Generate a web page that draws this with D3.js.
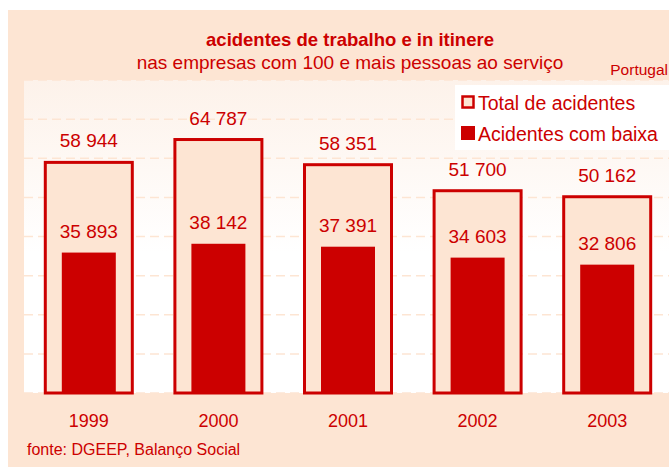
<!DOCTYPE html>
<html>
<head>
<meta charset="utf-8">
<script src="https://cdn.jsdelivr.net/npm/d3@7"></script>
<style>
  body { margin: 0; background: #fff; }
  text { font-family: "Liberation Sans", Arial, sans-serif; fill: #cc0000; }
</style>
</head>
<body>
<div id="chart"></div>
<script>
// data
var years = ["1999", "2000", "2001", "2002", "2003"];
var totalAcidentes = [58944, 64787, 58351, 51700, 50162];
var comBaixa = [35893, 38142, 37391, 34603, 32806];
var gridTicks = [0, 10000, 20000, 30000, 40000, 50000, 60000, 70000, 80000];

var width = 669, height = 467;
var red = "#cc0000", peach = "#fde5d3";

var svg = d3.select("#chart").append("svg")
  .attr("width", width)
  .attr("height", height);

var defs = svg.append("defs");
var grad = defs.append("linearGradient")
  .attr("id", "plotbg")
  .attr("x1", 0).attr("y1", 0).attr("x2", 0).attr("y2", 1);
grad.append("stop").attr("offset", "0%").attr("stop-color", "#fdf2ea");
grad.append("stop").attr("offset", "55%").attr("stop-color", "#ffffff");
grad.append("stop").attr("offset", "100%").attr("stop-color", "#ffffff");

// outer panel
svg.append("rect")
  .attr("x", 8).attr("y", 10)
  .attr("width", width - 8).attr("height", height - 10)
  .attr("fill", peach);

var plot = { left: 24, right: 672, top: 80, bottom: 393 };

var x = d3.scaleBand()
  .domain(years)
  .range([plot.left, plot.right]);

var y = d3.scaleLinear()
  .domain([0, 80000])
  .range([plot.bottom, plot.top]);

svg.append("rect")
  .attr("x", plot.left).attr("y", plot.top)
  .attr("width", plot.right - plot.left).attr("height", plot.bottom - plot.top)
  .attr("fill", "url(#plotbg)");

// dashed grid
svg.append("g")
  .selectAll("line")
  .data(gridTicks)
  .enter().append("line")
    .attr("x1", plot.left).attr("x2", plot.right)
    .attr("y1", function(d) { return y(d); })
    .attr("y2", function(d) { return y(d); })
    .attr("stroke", peach)
    .attr("stroke-width", 1.5)
    .attr("stroke-dasharray", "9,5");

var outerW = 87, innerW = 54;

// total bars (outlined)
svg.append("g")
  .selectAll("rect")
  .data(totalAcidentes)
  .enter().append("rect")
    .attr("x", function(d, i) { return x(years[i]) + x.bandwidth() / 2 - outerW / 2; })
    .attr("y", function(d) { return y(d); })
    .attr("width", outerW)
    .attr("height", function(d) { return y(0) - y(d); })
    .attr("fill", peach)
    .attr("stroke", red)
    .attr("stroke-width", 3);

// com baixa bars
svg.append("g")
  .selectAll("rect")
  .data(comBaixa)
  .enter().append("rect")
    .attr("x", function(d, i) { return x(years[i]) + x.bandwidth() / 2 - innerW / 2; })
    .attr("y", function(d) { return y(d); })
    .attr("width", innerW)
    .attr("height", function(d) { return y(0) - y(d); })
    .attr("fill", red);

var fmt = function(v) { return d3.format(",")(v).replace(/,/g, " "); };

svg.append("g")
  .selectAll("text")
  .data(totalAcidentes)
  .enter().append("text")
    .attr("x", function(d, i) { return x(years[i]) + x.bandwidth() / 2; })
    .attr("y", function(d) { return y(d) - 15; })
    .attr("text-anchor", "middle")
    .attr("font-size", 19)
    .text(fmt);

svg.append("g")
  .selectAll("text")
  .data(comBaixa)
  .enter().append("text")
    .attr("x", function(d, i) { return x(years[i]) + x.bandwidth() / 2; })
    .attr("y", function(d) { return y(d) - 15; })
    .attr("text-anchor", "middle")
    .attr("font-size", 19)
    .text(fmt);

// year labels
svg.append("g")
  .selectAll("text")
  .data(years)
  .enter().append("text")
    .attr("x", function(d) { return x(d) + x.bandwidth() / 2; })
    .attr("y", 427)
    .attr("text-anchor", "middle")
    .attr("font-size", 18)
    .text(function(d) { return d; });

// titles
svg.append("text")
  .attr("x", 350).attr("y", 46)
  .attr("text-anchor", "middle")
  .attr("font-size", 18.5)
  .attr("font-weight", "bold")
  .text("acidentes de trabalho e in itinere");

svg.append("text")
  .attr("x", 350).attr("y", 69)
  .attr("text-anchor", "middle")
  .attr("font-size", 19)
  .text("nas empresas com 100 e mais pessoas ao serviço");

svg.append("text")
  .attr("x", 668).attr("y", 75)
  .attr("text-anchor", "end")
  .attr("font-size", 15.5)
  .text("Portugal");

svg.append("text")
  .attr("x", 27).attr("y", 455)
  .attr("font-size", 16)
  .text("fonte: DGEEP, Balanço Social");

// legend
var legend = svg.append("g");
legend.append("rect")
  .attr("x", 455).attr("y", 85)
  .attr("width", 214).attr("height", 65)
  .attr("fill", "#fff");

legend.append("rect")
  .attr("x", 462.5).attr("y", 96.5)
  .attr("width", 11).attr("height", 11)
  .attr("fill", peach)
  .attr("stroke", red)
  .attr("stroke-width", 2.5);
legend.append("text")
  .attr("x", 478).attr("y", 110)
  .attr("font-size", 19.5)
  .text("Total de acidentes");

legend.append("rect")
  .attr("x", 461).attr("y", 126)
  .attr("width", 14).attr("height", 14)
  .attr("fill", red);
legend.append("text")
  .attr("x", 478).attr("y", 141)
  .attr("font-size", 19.5)
  .text("Acidentes com baixa");
</script>
</body>
</html>
